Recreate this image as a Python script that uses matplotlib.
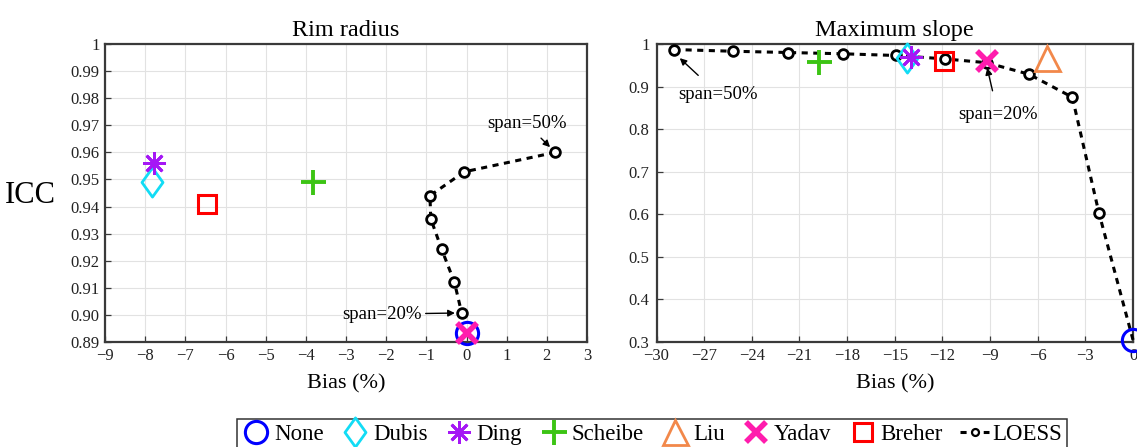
import matplotlib
matplotlib.use("Agg")
import matplotlib.pyplot as plt
from matplotlib.path import Path
import numpy as np

plt.rcParams['font.family'] = ['Liberation Serif', 'DejaVu Serif']
plt.rcParams['axes.unicode_minus'] = True

# ---------------- data ----------------
methods = ["None", "Dubis", "Ding", "Scheibe", "Liu", "Yadav", "Breher"]

# Rim radius: (bias %, ICC) per method (Liu lies outside the plotted range)
rim_bias = {"None": 0.0, "Dubis": -7.83, "Ding": -7.79, "Scheibe": -3.81,
            "Yadav": 0.0, "Breher": -6.47}
rim_icc = {"None": 0.8935, "Dubis": 0.949, "Ding": 0.9562, "Scheibe": 0.949,
           "Yadav": 0.8935, "Breher": 0.941}
# LOESS, span 50% -> 20%
rim_loess_bias = [2.21, -0.06, -0.91, -0.89, -0.62, -0.30, -0.12]
rim_loess_icc = [0.960, 0.9528, 0.9440, 0.9355, 0.9243, 0.9120, 0.9007]

# Maximum slope
slope_bias = {"None": 0.0, "Dubis": -14.2, "Ding": -14.0, "Scheibe": -19.8,
              "Liu": -5.4, "Yadav": -9.2, "Breher": -11.9}
slope_icc = {"None": 0.305, "Dubis": 0.966, "Ding": 0.969, "Scheibe": 0.958,
             "Liu": 0.966, "Yadav": 0.961, "Breher": 0.960}
# LOESS, span 50% -> 5%, ending at the unsmoothed result
slope_loess_bias = [-28.9, -25.2, -21.7, -18.25, -14.9, -11.85, -9.2, -6.55, -3.82, -2.15, 0.0]
slope_loess_icc = [0.987, 0.983, 0.980, 0.977, 0.973, 0.965, 0.956, 0.929, 0.875, 0.604, 0.305]

rim_xticks = list(range(-9, 4))
rim_yticks = [0.89, 0.90, 0.91, 0.92, 0.93, 0.94, 0.95, 0.96, 0.97, 0.98, 0.99, 1.0]
rim_ylabels = ["0.89", "0.90", "0.91", "0.92", "0.93", "0.94", "0.95", "0.96",
               "0.97", "0.98", "0.99", "1"]
slope_xticks = list(range(-30, 1, 3))
slope_yticks = [0.3, 0.4, 0.5, 0.6, 0.7, 0.8, 0.9, 1.0]
slope_ylabels = ["0.3", "0.4", "0.5", "0.6", "0.7", "0.8", "0.9", "1"]

# ---------------- styles ----------------
diamond = Path([(0, 1), (0.72, 0), (0, -1), (-0.72, 0), (0, 1)],
               [Path.MOVETO, Path.LINETO, Path.LINETO, Path.LINETO, Path.CLOSEPOLY])
styles = {
    "None":    dict(marker="o", ms=16, mfc="none", mec="#0000ff", mew=2.2),
    "Dubis":   dict(marker=diamond, ms=21, mfc="none", mec="#12dcf5", mew=2.0),
    "Ding":    dict(marker=(8, 2, 0), ms=16, mfc="none", mec="#a517f5", mew=2.0),
    "Scheibe": dict(marker="+", ms=18, mfc="none", mec="#3cc414", mew=2.8),
    "Liu":     dict(marker="^", ms=18, mfc="none", mec="#f2884a", mew=2.0),
    "Yadav":   dict(marker="x", ms=14, mfc="none", mec="#ff1cad", mew=4.0),
    "Breher":  dict(marker="s", ms=13, mfc="none", mec="#ff0000", mew=2.2),
}
loess_style = dict(color="black", lw=2.2, ls=(0, (2.0, 1.8)), marker="o", ms=7,
                   mfc="white", mec="black", mew=2.0)

W, H = 1137, 447
fig = plt.figure(figsize=(W / 100, H / 100), dpi=100)
ax1 = fig.add_axes([105 / W, (H - 342) / H, (587 - 105) / W, (342 - 44) / H])
ax2 = fig.add_axes([656.5 / W, (H - 342) / H, (1133 - 656.5) / W, (342 - 44) / H])


def style_axes(ax):
    for s in ax.spines.values():
        s.set_color("#3a3a3a")
        s.set_linewidth(1.6)
    ax.grid(True, color="#e2e2e2", lw=0.8)
    ax.set_axisbelow(True)
    ax.tick_params(direction="in", length=4, width=0.9, color="#3a3a3a",
                   labelsize=12, labelcolor="#222222", pad=4,
                   top=False, right=False)


# Rim radius panel
ax1.plot(rim_loess_bias, rim_loess_icc, zorder=3, clip_on=False, **loess_style)
for m in methods:
    if m in rim_bias:
        ax1.plot([rim_bias[m]], [rim_icc[m]], ls="none", zorder=4, clip_on=False, **styles[m])
ax1.set_xlim(-9, 3)
ax1.set_ylim(0.89, 1.0)
ax1.set_xticks(rim_xticks)
ax1.set_yticks(rim_yticks)
ax1.set_yticklabels(rim_ylabels)
style_axes(ax1)
ax1.set_title("Rim radius", fontsize=17.5, pad=6)
ax1.set_xlabel("Bias (%)", fontsize=16, labelpad=8)
ax1.annotate("span=50%", xy=(rim_loess_bias[0] - 0.08, rim_loess_icc[0] + 0.0012),
             xytext=(1.5, 0.9705), ha="center", va="center", fontsize=13.5,
             arrowprops=dict(arrowstyle="-|>", color="black", lw=1.0,
                             mutation_scale=10, shrinkA=3, shrinkB=2))
ax1.annotate("span=20%", xy=(rim_loess_bias[-1] - 0.1, rim_loess_icc[-1]),
             xytext=(-1.12, 0.9003), ha="right", va="center", fontsize=13.5,
             arrowprops=dict(arrowstyle="-|>", color="black", lw=1.0,
                             mutation_scale=10, shrinkA=1, shrinkB=2))

# Maximum slope panel
n_marked = len(slope_loess_bias) - 1
ax2.plot(slope_loess_bias, slope_loess_icc, zorder=3, clip_on=False,
         markevery=list(range(n_marked)), **loess_style)
for m in methods:
    ax2.plot([slope_bias[m]], [slope_icc[m]], ls="none", zorder=4, clip_on=False, **styles[m])
ax2.set_xlim(-30, 0)
ax2.set_ylim(0.3, 1.0)
ax2.set_xticks(slope_xticks)
ax2.set_yticks(slope_yticks)
ax2.set_yticklabels(slope_ylabels)
style_axes(ax2)
ax2.tick_params(axis="y", pad=5)
ax2.set_title("Maximum slope", fontsize=17.5, pad=6)
ax2.set_xlabel("Bias (%)", fontsize=16, labelpad=8)
ax2.annotate("span=50%", xy=(slope_loess_bias[0] + 0.3, slope_loess_icc[0] - 0.018),
             xytext=(-26.1, 0.882), ha="center", va="center", fontsize=13.5,
             arrowprops=dict(arrowstyle="-|>", color="black", lw=1.0,
                             mutation_scale=10, shrinkA=8, shrinkB=1))
ax2.annotate("span=20%", xy=(slope_bias["Yadav"], 0.947),
             xytext=(-8.5, 0.835), ha="center", va="center", fontsize=13.5,
             arrowprops=dict(arrowstyle="-|>", color="black", lw=1.0,
                             mutation_scale=10, shrinkA=9, shrinkB=1))

fig.text(30 / W, 1 - 196 / H, "ICC", fontsize=22, ha="center", va="center")

# Shared legend
handles = []
for m in methods:
    h, = ax2.plot([], [], ls="none", **styles[m])
    handles.append(h)
lst = dict(loess_style)
lst["ms"] = 5
lst["mew"] = 1.6
h_loess, = ax2.plot([], [], **lst)
handles.append(h_loess)
labels = methods + ["LOESS"]
leg = fig.legend(handles, labels, loc="lower center", bbox_to_anchor=(652 / W, -0.005),
                 ncol=8, frameon=True, fancybox=False, edgecolor="black",
                 fontsize=16.5, handlelength=1.25, handletextpad=0.15,
                 columnspacing=0.75, borderpad=0.2, borderaxespad=0.0)
leg.get_frame().set_linewidth(1.1)

fig.savefig("out.png", dpi=100)
